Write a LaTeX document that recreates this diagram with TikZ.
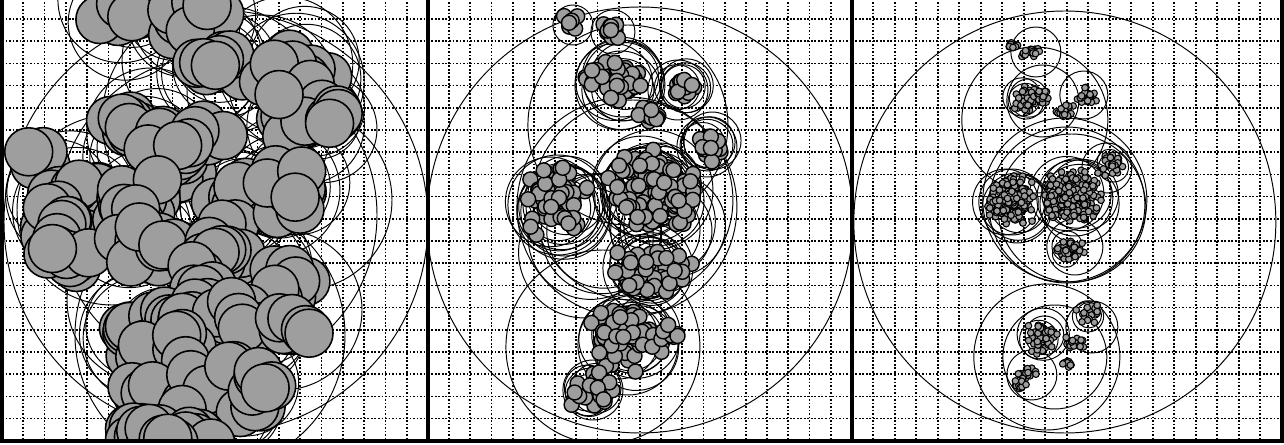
\documentclass[tikz,border=0pt]{standalone}

\tikzset{
  ball/.style={fill=black!38, draw=black, line width=#1},
  ball/.default=0.8pt,
  hull/.style={draw=black, line width=0.55pt},
  gridline/.style={line width=1pt, densely dotted},
  panelframe/.style={line width=1.8pt},
}

% a clump of filled balls: cx, cy, spread x, spread y, count, radius
\newcommand{\clump}[6]{%
  \foreach \k in {1,...,#5}{%
    \pgfmathsetmacro{\bx}{#1+#3*(rnd+rnd-1)}%
    \pgfmathsetmacro{\by}{#2+#4*(rnd+rnd-1)}%
    \draw[ball=\lw] (\bx,\by) circle[radius=#6];
  }%
}

% a few bounding circles round a point: cx, cy, radius, count
\newcommand{\rings}[4]{%
  \foreach \k in {1,...,#4}{%
    \pgfmathsetmacro{\rx}{#1+0.25*#3*(2*rnd-1)}%
    \pgfmathsetmacro{\ry}{#2+0.25*#3*(2*rnd-1)}%
    \pgfmathsetmacro{\rr}{#3*(0.8+0.4*rnd)}%
    \draw[hull] (\rx,\ry) circle[radius=\rr];
  }%
}

% grid of one panel: width
\newcommand{\panelgrid}[1]{%
  \pgfmathsetmacro{\cw}{#1/20}%
  \foreach \i in {1,...,19} {
    \draw[gridline] (\i*\cw, -5) -- (\i*\cw, 441);
  }
  \foreach \j in {0,...,18} {
    \draw[gridline] (0, 19+\j*22.2) -- (#1, 19+\j*22.2);
  }%
}

\begin{document}
\begin{tikzpicture}[x=0.02cm, y=-0.02cm]
    \useasboundingbox (0,0) rectangle (1284,445);

    % -------------------------------
    % panel 1: coarse level
    % -------------------------------
    \begin{scope}[xshift=0.04cm]
        \pgfmathsetseed{7}
        \def\lw{0.9pt}
        \begin{scope}
            \clip (0,-5) rectangle (426,441);
            \panelgrid{426}

            % bounding circles
            \foreach \x/\y/\r in {214/222/212, 215/215/160, 208/335/135, 215/120/115,
                                  110/210/95, 300/200/90, 190/60/70, 260/90/75,
                                  200/400/70, 150/300/85, 280/310/80} {
                \draw[hull] (\x,\y) circle[radius=\r];
            }
            \foreach \x/\y/\r/\n in {120/10/55/3, 185/20/60/3, 215/65/55/4, 290/70/60/4,
                                     310/118/50/4, 150/145/55/4, 70/200/55/4, 140/225/55/5,
                                     235/200/55/5, 285/190/55/4, 250/280/60/4,
                                     150/330/55/4, 240/325/55/4, 175/400/60/4, 240/395/50/3} {
                \rings{\x}{\y}{\r}{\n}
            }

            % balls
            \clump{120}{5}{40}{25}{10}{24}
            \clump{185}{15}{45}{25}{12}{24}
            \clump{215}{65}{35}{30}{12}{24}
            \clump{290}{70}{40}{30}{12}{24}
            \clump{305}{115}{35}{25}{10}{24}
            \clump{335}{125}{15}{20}{5}{24}
            \clump{130}{130}{35}{25}{10}{24}
            \clump{170}{160}{35}{30}{12}{24}
            \clump{200}{145}{30}{25}{8}{24}
            \clump{45}{160}{20}{20}{5}{24}
            \clump{80}{195}{35}{30}{12}{24}
            \clump{55}{225}{25}{25}{8}{24}
            \clump{65}{255}{30}{20}{8}{24}
            \clump{130}{205}{35}{30}{14}{24}
            \clump{150}{245}{35}{30}{12}{24}
            \clump{235}{200}{35}{35}{14}{24}
            \clump{290}{185}{35}{35}{12}{24}
            \clump{220}{255}{35}{30}{12}{24}
            \clump{285}{285}{30}{25}{10}{24}
            \clump{200}{300}{30}{20}{8}{24}
            \clump{125}{335}{30}{25}{10}{24}
            \clump{180}{320}{35}{25}{12}{24}
            \clump{230}{320}{35}{25}{12}{24}
            \clump{285}{330}{25}{25}{8}{24}
            \clump{165}{355}{35}{25}{10}{24}
            \clump{150}{395}{35}{30}{12}{24}
            \clump{205}{400}{35}{30}{12}{24}
            \clump{250}{385}{30}{30}{10}{24}
            \clump{135}{430}{30}{15}{8}{24}
            \clump{190}{435}{35}{10}{10}{24}
        \end{scope}
    \end{scope}


    % -------------------------------
    % panel 2: middle level
    % -------------------------------
    \begin{scope}[xshift=8.56cm]
        \pgfmathsetseed{21}
        \def\lw{0.8pt}
        \begin{scope}
            \clip (0,-5) rectangle (424,441);
            \panelgrid{424}

            % bounding circles
            \foreach \x/\y/\r in {212/220/213, 200/125/100, 199/207/110, 205/200/100,
                                  175/347/97, 192/85/45, 250/90/30, 130/205/50,
                                  225/190/60, 220/268/45, 200/345/50, 165/390/30,
                                  145/25/20, 185/32/22, 279/147/30} {
                \draw[hull] (\x,\y) circle[radius=\r];
            }
            \foreach \x/\y/\r/\n in {192/83/35/6, 255/88/25/4, 279/147/25/4, 130/205/40/8,
                                     225/190/45/9, 220/268/35/6, 200/340/40/6, 165/390/25/4,
                                     170/240/60/4, 240/230/55/4} {
                \rings{\x}{\y}{\r}{\n}
            }

            % balls
            \clump{142}{23}{8}{10}{8}{7.5}
            \clump{182}{30}{10}{10}{12}{7.5}
            \clump{192}{83}{25}{22}{38}{7.5}
            \clump{165}{77}{10}{10}{8}{7.5}
            \clump{255}{88}{12}{12}{15}{7.5}
            \clump{222}{115}{15}{10}{12}{7.5}
            \clump{279}{147}{15}{18}{18}{7.5}
            \clump{130}{200}{40}{40}{65}{7.5}
            \clump{225}{190}{50}{45}{105}{7.5}
            \clump{220}{268}{45}{28}{45}{7.5}
            \clump{200}{340}{40}{35}{65}{7.5}
            \clump{165}{390}{25}{22}{26}{7.5}
            \clump{245}{335}{15}{12}{9}{7.5}
        \end{scope}
    \end{scope}


    % -------------------------------
    % panel 3: fine level
    % -------------------------------
    \begin{scope}[xshift=17.04cm]
        \pgfmathsetseed{33}
        \def\lw{0.6pt}
        \begin{scope}
            \clip (0,-5) rectangle (430,441);
            \panelgrid{430}

            % bounding circles
            \foreach \x/\y/\r in {213/222/211, 183/120/73, 184/52/25, 191/101/36,
                                  232/95/24, 215/205/78, 220/208/74, 213/200/82,
                                  160/202/33, 223/198/38, 255/168/25, 223/247/28,
                                  195/357/73, 240/327/26, 180/375/25, 203/357/52} {
                \draw[hull] (\x,\y) circle[radius=\r];
            }
            \foreach \x/\y/\r/\n in {160/202/30/4, 223/198/34/4, 191/337/22/3, 173/100/16/3,
                                     236/313/14/2, 218/250/16/2, 260/165/14/2} {
                \rings{\x}{\y}{\r}{\n}
            }

            % balls
            \clump{161}{45}{6}{5}{14}{3.3}
            \clump{180}{52}{10}{6}{25}{3.3}
            \clump{173}{100}{12}{14}{55}{3.3}
            \clump{191}{97}{8}{8}{25}{3.3}
            \clump{213}{112}{10}{8}{25}{3.3}
            \clump{235}{95}{10}{10}{28}{3.3}
            \clump{158}{200}{25}{25}{190}{3.3}
            \clump{220}{197}{30}{28}{300}{3.3}
            \clump{260}{165}{12}{12}{32}{3.3}
            \clump{218}{250}{16}{10}{40}{3.3}
            \clump{236}{313}{12}{10}{28}{3.3}
            \clump{191}{337}{15}{18}{70}{3.3}
            \clump{221}{343}{12}{8}{25}{3.3}
            \clump{215}{363}{6}{6}{10}{3.3}
            \clump{175}{373}{10}{8}{20}{3.3}
            \clump{168}{385}{8}{6}{14}{3.3}
        \end{scope}
    \end{scope}

    % frame
    \draw[panelframe] (2,-5) -- (2,441) -- (1282,441) -- (1282,-5);
    \draw[panelframe] (428,-5) -- (428,441);
    \draw[panelframe] (852,-5) -- (852,441);

\end{tikzpicture}
\end{document}
